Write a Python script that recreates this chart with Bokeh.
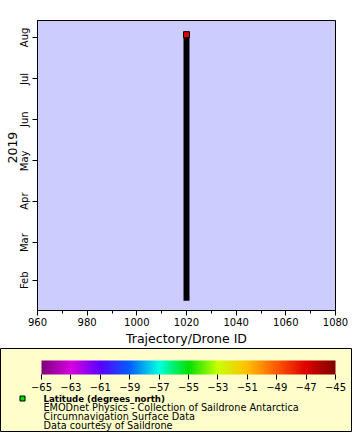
import math
from datetime import datetime
from bokeh.plotting import figure
from bokeh.layouts import column
from bokeh.models import (Range1d, ColumnDataSource, LinearColorMapper, ColorBar,
                          FixedTicker, MonthsTicker, DatetimeTickFormatter, Title)
from bokeh.transform import transform
from bokeh.core.properties import value
from bokeh.embed import file_html
from bokeh.resources import INLINE

# ---- data ----
trajectory_id = 1020
dates = ["2019-01-19", "2019-01-26", "2019-02-02", "2019-02-09", "2019-02-16",
         "2019-02-23", "2019-03-02", "2019-03-09", "2019-03-16", "2019-03-23",
         "2019-03-30", "2019-04-06", "2019-04-13", "2019-04-20", "2019-04-27",
         "2019-05-04", "2019-05-11", "2019-05-18", "2019-05-25", "2019-06-01",
         "2019-06-08", "2019-06-15", "2019-06-22", "2019-06-29", "2019-07-06",
         "2019-07-13", "2019-07-20", "2019-07-27", "2019-08-03"]
latitude = [-46.6, -52.1, -55.8, -57.6, -58.9, -59.7, -60.2, -58.4, -57.1, -56.3,
            -55.2, -54.6, -55.9, -57.2, -56.8, -55.4, -54.1, -53.7, -54.9, -56.2,
            -57.5, -58.1, -57.0, -55.6, -54.3, -53.1, -51.2, -49.4, -47.1]
x_ticks = [960, 980, 1000, 1020, 1040, 1060, 1080]
x_minor_ticks = [970, 990, 1010, 1030, 1050, 1070]
cbar_ticks = [-65, -63, -61, -59, -57, -55, -53, -51, -49, -47, -45]
legend_title = "Latitude (degrees_north)"
legend_lines = ["EMODnet Physics - Collection of Saildrone Antarctica",
                "Circumnavigation Surface Data",
                "Data courtesy of Saildrone"]
x_label = "Trajectory/Drone ID"
y_label = "2019"

FONT = "DejaVu Sans"

# rainbow palette (style)
anchors = ["#800080", "#d800e0", "#5a00ff", "#0060ff", "#00ffe0", "#00e000",
           "#c8ff00", "#ffc000", "#ff5a00", "#e00000", "#800000"]
def _hex(c):
    return tuple(int(c[i:i + 2], 16) for i in (1, 3, 5))
palette = []
N = 200
for k in range(N):
    t = k / (N - 1) * (len(anchors) - 1)
    i = min(int(t), len(anchors) - 2)
    f = t - i
    a, b = _hex(anchors[i]), _hex(anchors[i + 1])
    palette.append("#%02x%02x%02x" % tuple(round(a[j] + (b[j] - a[j]) * f) for j in range(3)))

mapper = LinearColorMapper(palette=palette, low=cbar_ticks[0], high=cbar_ticks[-1])

times = [datetime.strptime(d, "%Y-%m-%d") for d in dates]
src = ColumnDataSource(dict(t=times, x=[trajectory_id] * len(times), lat=latitude))
last = ColumnDataSource(dict(t=times[-1:], x=[trajectory_id], lat=latitude[-1:]))

# ---- main plot ----
p = figure(width=352, height=348, output_backend="svg", toolbar_location=None,
           x_range=Range1d(960, 1080),
           y_range=Range1d(datetime(2019, 1, 9, 11), datetime(2019, 8, 13, 14)),
           y_axis_type="datetime",
           min_border_left=37, min_border_right=17, min_border_top=20, min_border_bottom=36)
p.frame_align = False
p.background_fill_color = "#CCCCFF"
p.border_fill_color = "white"
p.outline_line_color = "black"
p.outline_line_width = 1
p.xgrid.visible = False
p.ygrid.visible = False

p.line(x="x", y="t", source=src, line_color="black", line_width=6, line_cap="square")
p.scatter(x="x", y="t", source=last, marker="square", size=6,
          fill_color=transform("lat", mapper), line_color="black", line_width=1)

xa = p.xaxis[0]
xa.ticker = FixedTicker(ticks=x_ticks, minor_ticks=x_minor_ticks)
xa.axis_label = x_label
ya = p.yaxis[0]
ya.ticker = MonthsTicker(months=list(range(12)))
ya.formatter = DatetimeTickFormatter(months="%b", days="%b")
ya.major_label_orientation = "parallel"
ya.minor_tick_line_color = None
for ax in (xa, ya):
    ax.axis_line_color = "black"
    ax.major_tick_out = 5
    ax.major_tick_in = 0
    ax.minor_tick_out = 3
    ax.minor_tick_in = 0
    ax.major_tick_line_color = "black"
    ax.major_label_text_font = FONT
    ax.major_label_text_font_size = "10px"
    ax.major_label_text_color = "black"
    ax.major_label_standoff = 2
    ax.axis_label_text_font = FONT
    ax.axis_label_text_font_size = "12.5px"
    ax.axis_label_text_font_style = "normal"
    ax.axis_label_text_color = "black"
    ax.axis_label_standoff = 2

p.add_layout(Title(text=y_label, align="left", offset=147, standoff=0,
                   text_font=FONT, text_font_size="12.5px", text_font_style="normal",
                   text_color="black"), "left")

# ---- legend panel ----
q = figure(width=352, height=84, output_backend="svg", toolbar_location=None,
           x_range=Range1d(0, 352), y_range=Range1d(0, 84),
           x_axis_location=None, y_axis_location=None, min_border=0)
q.frame_align = False
q.background_fill_color = "#FFFFCC"
q.border_fill_color = "#FFFFCC"
q.outline_line_color = "black"
q.xgrid.visible = False
q.ygrid.visible = False

cb = ColorBar(color_mapper=mapper, orientation="horizontal", location=(41, 39),
              width=294, height=14, padding=0,
              ticker=FixedTicker(ticks=cbar_ticks),
              major_tick_out=5, major_tick_in=0, major_tick_line_color="black",
              minor_tick_line_color=None, label_standoff=3,
              major_label_text_font=FONT, major_label_text_font_size="10px",
              major_label_text_color="black",
              background_fill_alpha=0, bar_line_color=None, border_line_color=None)
q.add_layout(cb)

q.scatter(x=[22], y=[34], marker="square", size=5, fill_color="#00e000", line_color="black")
q.text(x=[43], y=[34], text=[legend_title], text_font=value(FONT), text_font_size="8.6px",
       text_font_style="bold", text_baseline="middle", text_color="black")
q.text(x=[43, 43, 43], y=[25, 16, 7], text=legend_lines, text_font=value(FONT),
       text_font_size="9.7px", text_baseline="middle", text_color="black")

layout = column(p, q, spacing=0)
open("out.html", "w").write(file_html(layout, INLINE))
